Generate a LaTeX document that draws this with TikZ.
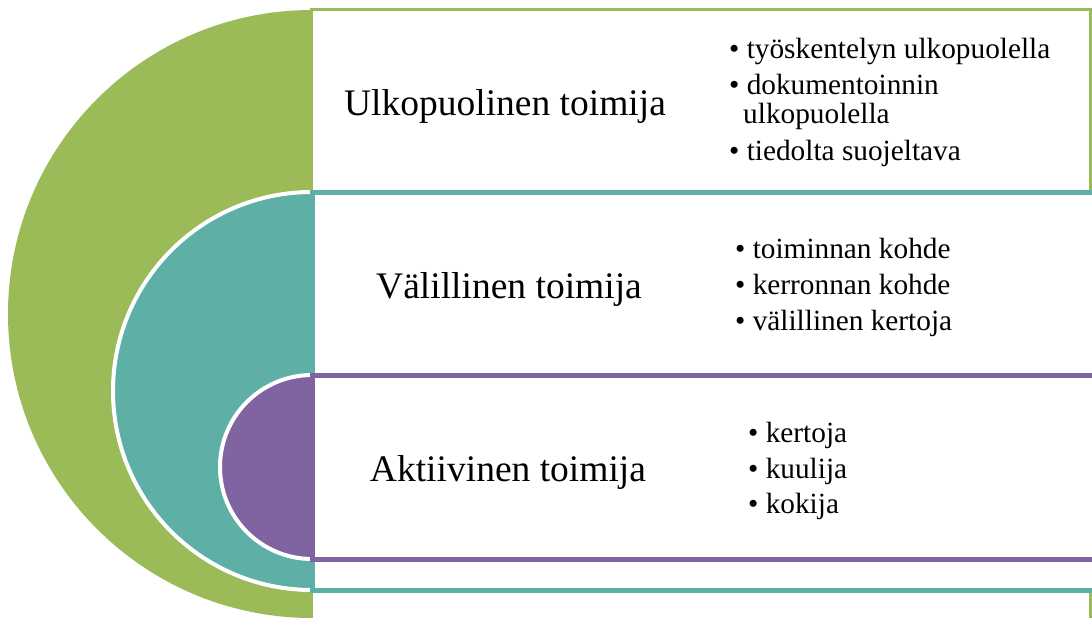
\documentclass[tikz,border=0pt]{standalone}
\usepackage{fontspec}
\setmainfont{Liberation Serif}
\definecolor{cgreen}{HTML}{9BBB59}
\definecolor{cteal}{HTML}{5EAFA5}
\definecolor{cpurple}{HTML}{8064A2}
\begin{document}
\begin{tikzpicture}[x=1pt,y=-1pt,
 head/.style={font=\fontsize{37.5}{44}\selectfont, inner sep=0pt, anchor=base},
 item/.style={font=\fontsize{29.3}{34}\selectfont, inner sep=0pt, anchor=base west},
 half/.style={line width=4pt, draw=white},
]
\useasboundingbox (0,0) rectangle (1092,618);
\clip (0,0) rectangle (1092,618);
% green layer
\draw[cgreen, line width=3pt] (311,9.5) rectangle (1090,650);
\begin{scope}
 \clip (0,0) rectangle (312,618);
 \fill[cgreen] (312,314) circle[radius=304];
 \filldraw[fill=cteal, half] (312,391) circle[radius=199];
\end{scope}
% teal layer
\draw[cteal, line width=5pt, fill=white] (312,192.5) rectangle (1100,590);
\begin{scope}
 \clip (0,0) rectangle (312,618);
 \filldraw[fill=cpurple, half] (312,467) circle[radius=92];
\end{scope}
% purple layer
\draw[cpurple, line width=5pt, fill=white] (312,375.5) rectangle (1100,559.5);
% headings
\node[head] (h1) at (505,115) {Ulkopuolinen toimija};
\node[head] (h2) at (509,298) {Välillinen toimija};
\node[head] (h3) at (508,481) {Aktiivinen toimija};
% items
\node[item] (a1) at (729,59) {• työskentelyn ulkopuolella};
\node[item] (a2) at (729,94) {• dokumentoinnin};
\node[item] (a3) at (743,123) {ulkopuolella};
\node[item] (a4) at (729,160) {• tiedolta suojeltava};
\node[item] (b1) at (735,258) {• toiminnan kohde};
\node[item] (b2) at (735,294) {• kerronnan kohde};
\node[item] (b3) at (735,330) {• välillinen kertoja};
\node[item] (c1) at (748,442) {• kertoja};
\node[item] (c2) at (748,478) {• kuulija};
\node[item] (c3) at (748,513) {• kokija};
\end{tikzpicture}
\end{document}
